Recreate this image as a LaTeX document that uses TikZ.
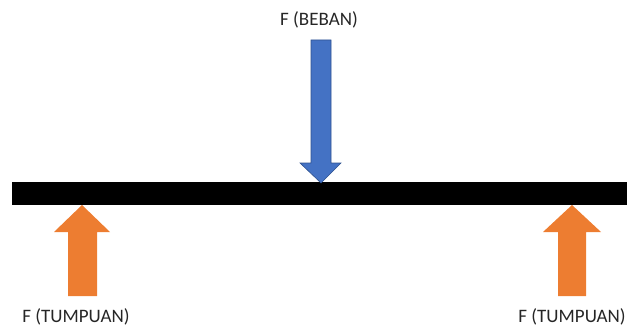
\documentclass[tikz,border=0pt]{standalone}
\usepackage{fontspec}
\setmainfont{Carlito}
\definecolor{officeblue}{HTML}{4472C4}
\definecolor{blueedge}{HTML}{2F528F}
\definecolor{officeorange}{HTML}{ED7D31}
\definecolor{labelgray}{HTML}{262626}
\begin{document}
\begin{tikzpicture}[x=1pt,y=-1pt,
  lbl/.style={font=\fontsize{19}{22}\selectfont, text=labelgray, inner sep=0pt, anchor=base},
  beamstyle/.style={fill=black, draw=none, minimum width=615pt, minimum height=23pt, inner sep=0pt}]
\useasboundingbox (0,0) rectangle (634,329);
\node[beamstyle] (beam) at (319.5,193.5) {};
% load arrow (blue, down)
\fill[officeblue, draw=blueedge, line width=0.6pt]
  (311,40) -- (331,40) -- (331,163) -- (341,163) -- (321,183) -- (300,163) -- (311,163) -- cycle;
% left support arrow (orange, up)
\fill[officeorange]
  (82,205) -- (110,232) -- (97,232) -- (97,296) -- (68,296) -- (68,232) -- (54,232) -- cycle;
% right support arrow (orange, up)
\fill[officeorange]
  (572,205) -- (601,232) -- (586,232) -- (586,296) -- (558,296) -- (558,232) -- (543,232) -- cycle;
\node[lbl] (beban) at (319,26) {F (BEBAN)};
\node[lbl] (tumpuanL) at (76,322) {F (TUMPUAN)};
\node[lbl] (tumpuanR) at (572,322) {F (TUMPUAN)};
\end{tikzpicture}
\end{document}
